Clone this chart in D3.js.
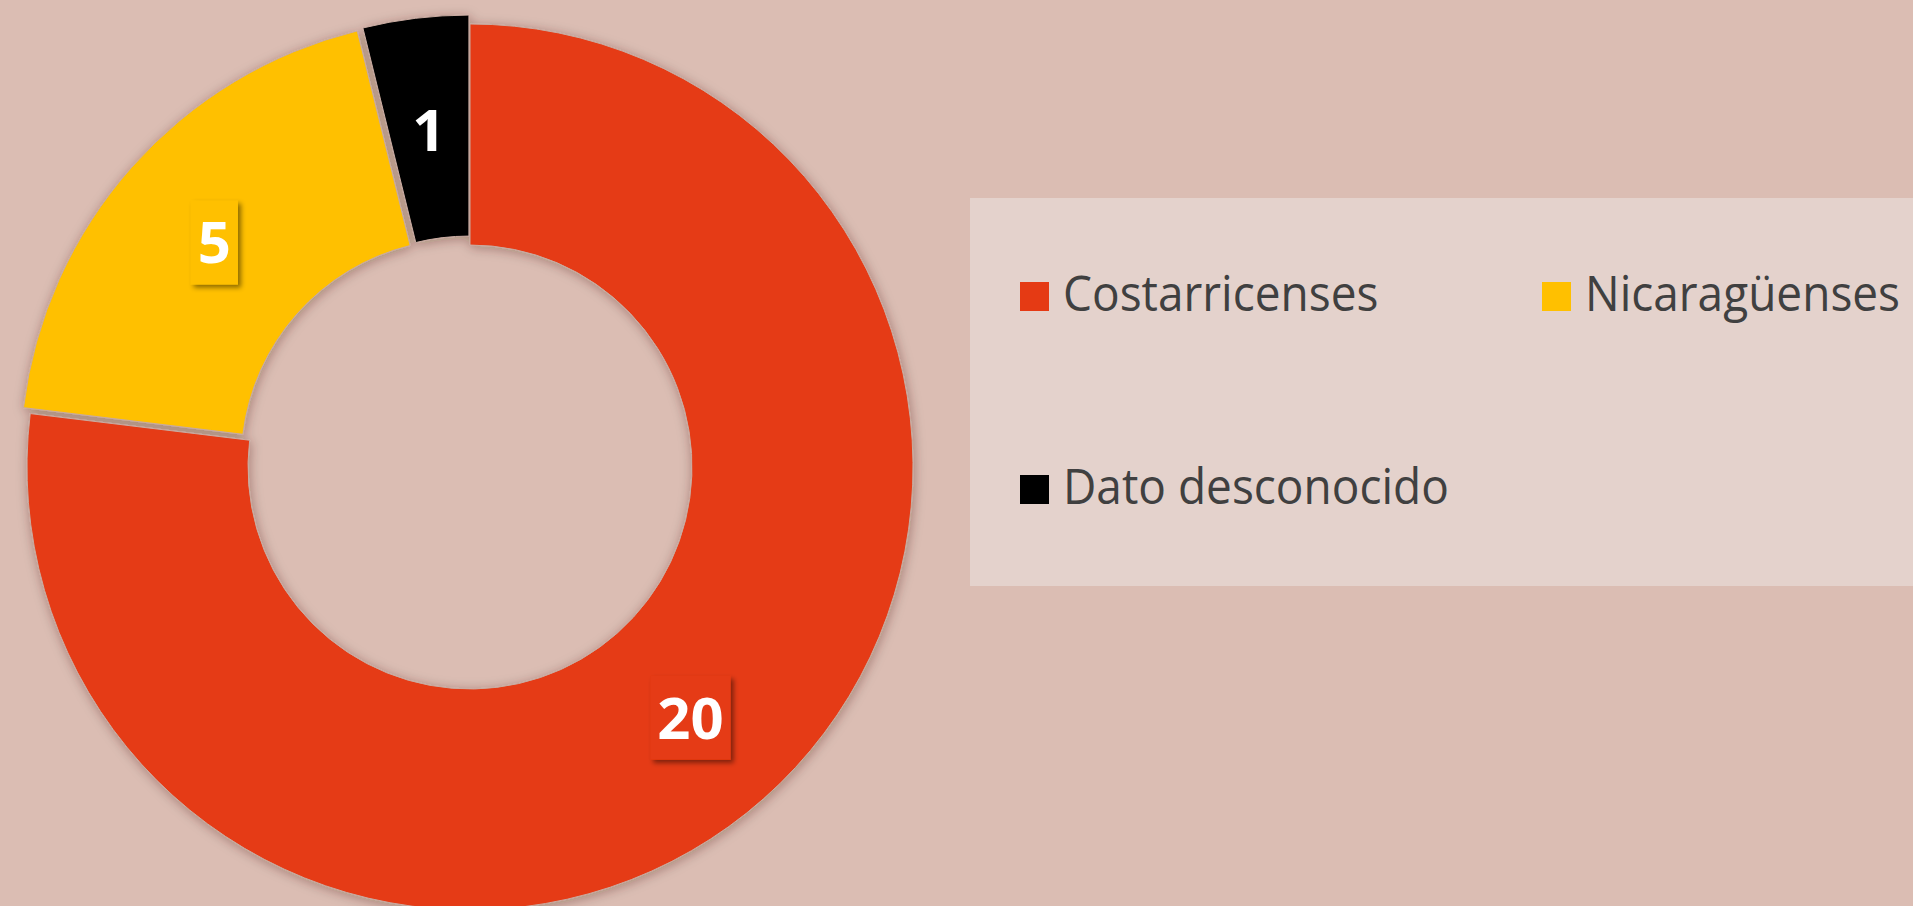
<!DOCTYPE html>
<html>
<head>
<meta charset="utf-8">
<script src="https://cdn.jsdelivr.net/npm/d3@7"></script>
<style>
  html, body { margin: 0; padding: 0; background: #dbbdb3; overflow: hidden; }
  svg { display: block; }
</style>
</head>
<body>
<svg id="chart" width="1913" height="906"></svg>
<script>
// ---- data ----
const categories = ["Costarricenses", "Nicaragüenses", "Dato desconocido"];
const values = [20, 5, 1];
const colors = ["#e53a14", "#ffc000", "#000000"];
const explodeDist = [0, 9, 9];

// ---- layout ----
const W = 1913, H = 906;
const cx = 470, cy = 467;
const outerR = 443, innerR = 222;
const bg = "#dbbdb3";

const svg = d3.select("#chart");
svg.append("rect").attr("width", W).attr("height", H).attr("fill", bg);

const defs = svg.append("defs");
const f1 = defs.append("filter").attr("id", "pieShadow")
  .attr("x", "-20%").attr("y", "-20%").attr("width", "140%").attr("height", "140%");
f1.append("feDropShadow").attr("dx", 1).attr("dy", 2).attr("stdDeviation", 6)
  .attr("flood-color", "#3a1a10").attr("flood-opacity", 0.35);
const f2 = defs.append("filter").attr("id", "boxShadow")
  .attr("x", "-30%").attr("y", "-30%").attr("width", "160%").attr("height", "160%");
f2.append("feDropShadow").attr("dx", 3).attr("dy", 3).attr("stdDeviation", 2.5)
  .attr("flood-color", "#000").attr("flood-opacity", 0.45);

const pie = d3.pie().sort(null).value(d => d)(values);
const arc = d3.arc().innerRadius(innerR).outerRadius(outerR);
const labelArc = d3.arc().innerRadius((innerR + outerR) / 2).outerRadius((innerR + outerR) / 2);

function offset(d, i) {
  const a = (d.startAngle + d.endAngle) / 2;
  return [Math.sin(a) * explodeDist[i], -Math.cos(a) * explodeDist[i]];
}

const pieG = svg.append("g").attr("transform", `translate(${cx},${cy})`)
  .attr("filter", "url(#pieShadow)");
pieG.selectAll("path").data(pie).join("path")
  .attr("d", arc)
  .attr("transform", (d, i) => { const o = offset(d, i); return `translate(${o[0]},${o[1]})`; })
  .attr("fill", (d, i) => colors[i])
  .attr("stroke", "#c9aaa0").attr("stroke-width", 1);

// data labels
const labG = svg.append("g").attr("transform", `translate(${cx},${cy})`);
pie.forEach((d, i) => {
  const c = labelArc.centroid(d);
  const o = offset(d, i);
  const g = labG.append("g").attr("transform", `translate(${c[0] + o[0]},${c[1] + o[1] + 2})`);
  const rect = g.append("rect").attr("fill", colors[i]).attr("filter", "url(#boxShadow)");
  const t = g.append("text").text(values[i])
    .attr("text-anchor", "middle").attr("dy", "0.36em")
    .attr("font-family", "'Open Sans', sans-serif").attr("font-weight", 700)
    .attr("font-size", 58).attr("fill", "#ffffff");
  const tw = t.node().getComputedTextLength();
  const bw = tw + 14, bh = 84;
  rect.attr("x", -bw / 2).attr("y", -bh / 2).attr("width", bw).attr("height", bh);
});

// legend
const legend = svg.append("g");
legend.append("rect").attr("x", 970).attr("y", 198).attr("width", W - 970).attr("height", 388)
  .attr("fill", "#e4d2cc");
const legendPos = [[1020, 311], [1542, 311], [1020, 504]];
const sqSize = 29;
const textSX = 0.92;
categories.forEach((name, i) => {
  const [x, y] = legendPos[i];
  legend.append("rect").attr("x", x).attr("y", y - sqSize).attr("width", sqSize).attr("height", sqSize)
    .attr("fill", colors[i]);
  legend.append("text").text(name)
    .attr("transform", `translate(${x + sqSize + 14},${y}) scale(${textSX},1)`)
    .attr("font-family", "'Open Sans', sans-serif").attr("font-size", 50)
    .attr("fill", "#404040");
});
</script>
</body>
</html>
